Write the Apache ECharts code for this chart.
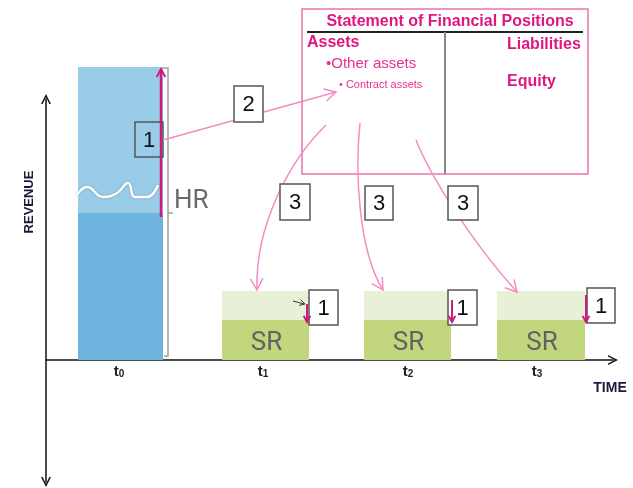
<!DOCTYPE html>
<html>
<head>
<meta charset="utf-8">
<script src="https://cdn.jsdelivr.net/npm/echarts@6/dist/echarts.min.js"></script>
<style>
html, body { margin: 0; padding: 0; background: #fff; }
#main { width: 633px; height: 488px; }
</style>
</head>
<body>
<div id="main"></div>
<script>
// revenue per period, in axis units
const periods = ['t0', 't1', 't2', 't3'];
const barStart = [32, 176, 318, 451];
const barEnd = [117, 263, 405, 539];
const recognised = [147, 40, 40, 40];
const totalRevenue = [293, 69, 69, 69];
const barNames = ['', 'SR', 'SR', 'SR'];
const tickAt = [73, 217, 362, 491];

// white wavy cut across the t0 bar
const waveX = [31, 41, 57, 71, 82, 89, 101, 112];
const waveY = [165, 173, 163, 167, 177, 163, 163, 175];

const darkColors = ['#6DB5DF', '#C2D67E', '#C2D67E', '#C2D67E'];
const lightColors = ['#98CCE8', '#E8F0D8', '#E8F0D8', '#E8F0D8'];

const MAGENTA = '#CC1B7D';
const PINK = '#F28DC3';
const PINKTEXT = '#DF1680';
const Z = 20;
const chevron = 'path://M0,10 L5,0 L10,10 L8.4,10 L5,3.2 L1.6,10 Z';

function seg (x1, y1, x2, y2, color, w, z) {
  return { type: 'line', z: z || Z, shape: { x1, y1, x2, y2 }, style: { stroke: color, lineWidth: w } };
}
function head (x, y, ang, len, color, w, z) {
  const s = 0.5;
  return {
    type: 'polyline', z: z || Z,
    shape: { points: [[x - len * Math.cos(ang - s), y - len * Math.sin(ang - s)], [x, y], [x - len * Math.cos(ang + s), y - len * Math.sin(ang + s)]] },
    style: { stroke: color, lineWidth: w, fill: 'none' }
  };
}
function txt (x, y, text, font, color, align) {
  return {
    type: 'text', z: Z + 1, x, y,
    style: { text, font, fill: color, align: align || 'left', textAlign: align || 'left', verticalAlign: 'middle', textVerticalAlign: 'middle' }
  };
}
function box (x, y, w, h, num, fill) {
  return [
    { type: 'rect', z: Z, shape: { x, y, width: w, height: h }, style: { fill: fill, stroke: '#555', lineWidth: 1.5 } },
    txt(x + w / 2, y + h / 2 + 1, num, '22px "Liberation Sans"', '#111', 'center')
  ];
}
function curve (c, color) {
  return [
    { type: 'bezierCurve', z: Z, shape: { x1: c[0], y1: c[1], cpx1: c[2], cpy1: c[3], cpx2: c[4], cpy2: c[5], x2: c[6], y2: c[7] }, style: { stroke: color, lineWidth: 1.5, fill: 'none' } },
    head(c[6], c[7], Math.atan2(c[7] - c[5], c[6] - c[4]), 13, color, 1.5)
  ];
}

function renderBar (params, api) {
  const a = api.coord([api.value(0), api.value(3)]);
  const b = api.coord([api.value(1), api.value(2)]);
  const rect = {
    type: 'rect',
    shape: { x: a[0], y: a[1], width: b[0] - a[0], height: b[1] - a[1] },
    style: { fill: api.visual('color') }
  };
  const name = barNames[params.dataIndex];
  if (params.seriesIndex !== 0 || !name) return rect;
  return {
    type: 'group',
    children: [rect, {
      type: 'text', x: (a[0] + b[0]) / 2 + 1, y: (a[1] + b[1]) / 2 + 3,
      style: { text: name, font: '26px Roboto', fill: '#626262', align: 'center', textAlign: 'center', verticalAlign: 'middle', textVerticalAlign: 'middle' }
    }]
  };
}

function renderPeriod (params, api) {
  const p = api.coord([api.value(0), 0]);
  const name = periods[params.dataIndex];
  return {
    type: 'text', x: p[0], y: p[1] + 12,
    style: {
      text: '{t|t}{s|' + name.slice(1) + '}',
      rich: {
        t: { fontSize: 15, fontWeight: 'bold', fontFamily: 'Liberation Sans', fill: '#222' },
        s: { fontSize: 10, fontWeight: 'bold', fontFamily: 'Liberation Sans', fill: '#222', verticalAlign: 'bottom', padding: [5, 0, 0, 0] }
      },
      align: 'center', textAlign: 'center', verticalAlign: 'middle', textVerticalAlign: 'middle'
    }
  };
}

const curves = [
  [326, 125, 290, 160, 255, 225, 257, 290],
  [360, 123, 355, 170, 358, 250, 383, 290],
  [416, 140, 430, 175, 470, 240, 517, 292]
];

let graphics = [
  // t0 bracket and HR
  { type: 'polyline', z: Z, shape: { points: [[163, 68], [168, 68], [168, 356], [164, 356]] }, style: { stroke: '#a0a0a0', lineWidth: 1.5, fill: 'none' } },
  seg(168, 213, 173, 213, '#a0a0a0', 1.5),
  txt(174, 201, 'HR', '26px Roboto', '#6a6a6a', 'left'),
  seg(161, 217, 161, 70, MAGENTA, 2.5),
  head(161, 69, -Math.PI / 2, 9, MAGENTA, 2),
  ...box(135, 122, 28, 35, '1', 'none'),
  seg(163, 140, 336, 92, PINK, 1.5),
  head(336, 92, Math.atan2(-48, 173), 13, PINK, 1.5),
  ...box(234, 86, 29, 36, '2', '#fff'),
  // statement of financial positions
  { type: 'rect', z: Z, shape: { x: 302, y: 9, width: 286, height: 165 }, style: { fill: 'none', stroke: '#EC73AE', lineWidth: 1.5 } },
  seg(307, 32, 583, 32, '#222', 2),
  seg(445, 32, 445, 174, '#888', 2),
  txt(450, 22, 'Statement of Financial Positions', 'bold 16px "Liberation Sans"', PINKTEXT, 'center'),
  txt(307, 43, 'Assets', 'bold 16px "Liberation Sans"', PINKTEXT),
  txt(326, 64, '•Other assets', '15px "Liberation Sans"', '#E8308E'),
  txt(339, 85, '• Contract assets', '11px "Liberation Sans"', '#E8308E'),
  txt(507, 45, 'Liabilities', 'bold 16px "Liberation Sans"', PINKTEXT),
  txt(507, 82, 'Equity', 'bold 16px "Liberation Sans"', PINKTEXT),
  ...box(309, 290, 29, 35, '1', '#fff'),
  ...box(448, 290, 29, 35, '1', '#fff'),
  ...box(587, 288, 28, 35, '1', '#fff'),
  // small arrows at the SR bars, drawn over the boxes
  seg(293, 301, 304, 304, '#333', 1, Z + 2),
  head(305, 304, Math.atan2(3, 11), 6, '#333', 1, Z + 2),
  seg(307, 304, 307, 321, MAGENTA, 2, Z + 2),
  head(307, 322, Math.PI / 2, 7, MAGENTA, 2, Z + 2),
  seg(452, 300, 452, 321, MAGENTA, 2, Z + 2),
  head(452, 322, Math.PI / 2, 7, MAGENTA, 2, Z + 2),
  seg(586, 295, 586, 321, MAGENTA, 2, Z + 2),
  head(586, 322, Math.PI / 2, 7, MAGENTA, 2, Z + 2),
  // axis names
  { type: 'text', z: Z, x: 29, y: 202, rotation: Math.PI / 2, style: { text: 'REVENUE', font: 'bold 13px "Liberation Sans"', fill: '#1a1a3a', align: 'center', textAlign: 'center', verticalAlign: 'middle', textVerticalAlign: 'middle' } },
  txt(610, 388, 'TIME', 'bold 14px "Liberation Sans"', '#1a1a3a', 'center')
];
curves.forEach(c => { graphics = graphics.concat(curve(c, PINK)); });
graphics = graphics.concat(box(280, 184, 30, 36, '3', '#fff'), box(365, 186, 28, 34, '3', '#fff'), box(448, 186, 30, 34, '3', '#fff'));

const chart = echarts.init(document.getElementById('main'));
chart.setOption({
  animation: false,
  grid: { left: 46, right: 20, top: 99, bottom: 6, outerBoundsMode: 'none', containLabel: false },
  xAxis: {
    type: 'value', min: 0, max: 567,
    splitLine: { show: false },
    axisTick: { show: false },
    axisLabel: { show: false },
    axisLine: { onZero: true, symbol: ['none', chevron], symbolSize: [10, 12], lineStyle: { color: '#111', width: 1.5 } }
  },
  yAxis: {
    type: 'value', min: -122, max: 261,
    splitLine: { show: false },
    axisTick: { show: false },
    axisLabel: { show: false },
    axisLine: { show: true, symbol: [chevron, chevron], symbolSize: [10, 12], lineStyle: { color: '#111', width: 1.5 } }
  },
  series: [
    {
      name: 'recognised',
      type: 'custom',
      renderItem: renderBar,
      data: periods.map((p, i) => ({ value: [barStart[i], barEnd[i], 0, recognised[i]], itemStyle: { color: darkColors[i] } }))
    },
    {
      name: 'remaining',
      type: 'custom',
      renderItem: renderBar,
      data: periods.map((p, i) => ({ value: [barStart[i], barEnd[i], recognised[i], totalRevenue[i]], itemStyle: { color: lightColors[i] } }))
    },
    {
      name: 'cut',
      type: 'line',
      smooth: 0.5,
      symbol: 'none',
      z: 5,
      lineStyle: { color: '#fff', width: 2.5, shadowColor: 'rgba(0,0,0,0.3)', shadowBlur: 2 },
      data: waveX.map((x, i) => [x, waveY[i]])
    },
    {
      name: 'periods',
      type: 'custom',
      renderItem: renderPeriod,
      data: tickAt.map(x => [x])
    }
  ],
  graphic: graphics
});
</script>
</body>
</html>
